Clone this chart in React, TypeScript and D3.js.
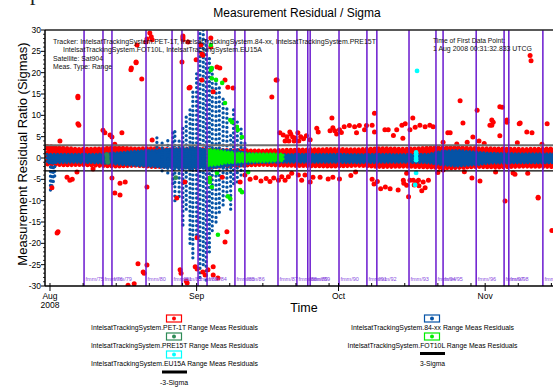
import React from "react";
import * as d3 from "d3";

const WIDTH = 553;
const HEIGHT = 387;
const PLOT = { left: 45, right: 553, top: 30, bottom: 286 };
const AUG1 = Date.UTC(2008, 7, 1);
const DAY = 86400000;
const FONT = "'Liberation Sans', Arial, sans-serif";

const COLORS = {
  pet1t: "#ff0000",
  b84xx: "#0553a6",
  pre15t: "#2e8b57",
  fot10l: "#00ee00",
  eu15a: "#00ffff",
  fmm: "#6a18cf",
  fmmText: "#8a4ce0",
};

// days from 1 Aug 2008, ratio in sigmas
const pet1tBand: [number, number, number][] = [
  [-0.6, -1.5, 2.8], [3, -1.7, 2.4], [6, -1.6, 2.1], [10, -1.8, 2.2], [14, -2.0, 2.5],
  [18, -1.8, 2.2], [22, -2.1, 2.3], [26, -2.0, 2.0], [30, -2.2, 2.2], [35, -2.1, 1.9],
  [40, -1.8, 1.8], [45, -1.6, 1.7], [50, -1.8, 1.9], [55, -1.9, 2.0], [60, -2.0, 2.1],
  [65, -1.8, 2.0], [70, -2.1, 2.3], [75, -2.0, 2.1], [80, -2.2, 2.4], [85, -2.4, 2.5],
  [90, -2.1, 2.3], [95, -2.2, 2.2], [100, -2.0, 2.1], [106.5, -2.1, 2.2],
];

const pet1tPoints: [number, number][] = [
  [2.1, 4.0], [5.9, 14.1], [5.9, 14.5], [6.1, 7.7], [3.6, -4.5], [4.7, -5.0], [1.5, -17.6],
  [1.7, -17.3], [0.4, -7.0], [5.7, -3.3], [5.9, 8.0], [11.2, 6.5], [11.6, 5.9], [12.7, 5.4],
  [13.1, 4.9], [15.2, 5.9], [13.7, 3.2], [9.1, -2.6], [13.1, -4.7], [14.8, -5.9], [15.9, -5.6],
  [13.7, -8.2], [14.8, -8.7], [4.2, -5.2], [20.5, -6.8], [26.8, -9.4], [21.6, 4.2],
  [19.4, 18.5], [20.3, 27.2], [20.5, 27.9], [21.1, 29.3], [21.4, 28.4], [21.6, 27.7],
  [18.4, 26.5], [17.2, 21.1], [17.1, 20.7], [18.2, 22.5], [18.2, 22.3], [28.1, 28.6],
  [28.1, 28.2], [29.2, 27.2], [27.9, 22.5], [30.9, 23.0], [32.1, 24.4], [32.3, 24.1],
  [34.0, 28.1], [34.0, 26.0], [35.9, 21.1], [37.0, 18.3], [32.1, 18.3], [47.8, 18.3],
  [18.6, -24.8], [20.5, -25.1], [19.7, -26.7], [19.9, -27.0], [16.5, -29.8], [17.8, -29.5],
  [27.5, -26.2], [27.7, -27.0], [29.0, -29.3], [28.8, -28.8], [30.7, -25.5], [31.1, -26.0],
  [32.3, -26.7], [32.8, -27.4], [34.5, -25.5], [35.5, -28.1],
  [28.1, 27.7], [29.6, 16.6], [29.4, 16.4], [31.9, 26.5], [35.3, 21.3], [37.6, 16.6],
  [38.7, 16.4], [34.5, 15.5], [28.5, -5.6], [33.8, -4.7], [36.4, -4.5], [37.4, -17.3],
  [37.0, -19.7], [31.1, -18.7], [33.4, -26.2], [34.5, -27.4], [40.2, -5.6], [41.2, -4.0],
  [48.0, 18.3], [46.9, 14.3],
  [48.6, 5.9], [49.3, 5.4], [49.7, 4.0], [50.1, 5.0], [50.5, 4.0], [50.9, 5.6], [51.3, 4.9],
  [51.6, 4.0], [52.6, 4.0], [53.0, 5.0], [53.6, 4.5], [54.2, 5.2], [55.0, 4.3], [50.7, 6.1],
  [52.4, 5.9], [51.8, 4.7], [56.4, 7.0], [56.7, 6.1],
  [59.2, 6.4], [59.8, 7.1], [60.2, 6.4], [61.2, 6.6], [60.6, 5.6], [61.6, 6.0], [62.2, 7.3],
  [63.3, 7.6], [64.4, 7.3], [64.8, 5.9], [65.4, 7.6], [66.5, 6.6], [66.9, 7.6],
  [68.6, 10.5], [68.1, 7.7], [68.6, 6.1], [59.6, 9.4],
  [70.8, 6.6], [71.5, 6.6], [73.3, 6.6], [74.4, 7.7], [75.1, 8.0], [76.1, 6.6], [77.2, 7.2],
  [78.2, 7.7], [79.3, 7.3], [80.3, 7.7], [81.0, 7.3], [72.6, 5.3], [74.6, 4.6], [76.7, 9.4],
  [47.3, -4.7], [48.3, -5.2], [49.0, -4.4], [49.7, -5.2], [50.4, -4.4], [51.1, -3.6],
  [52.5, -4.0], [53.2, -5.2], [53.9, -4.0], [55.0, -5.6], [55.6, -4.5],
  [42.3, -5.0], [43.5, -4.6], [44.6, -5.4], [45.7, -4.8], [46.5, -5.5],
  [57.1, -4.5], [58.8, -4.9], [59.8, -4.5], [61.2, -4.9], [63.6, -4.1], [64.6, -3.3],
  [68.1, -5.0], [69.2, -5.5], [68.5, -6.1], [69.9, -7.2], [70.9, -6.8], [71.9, -7.2],
  [73.6, -7.5], [74.7, -5.2], [75.4, -6.4], [75.8, -9.1],
  [76.1, -5.2], [76.8, -5.2], [77.5, -5.6], [77.9, -5.2], [78.9, -5.6], [79.3, -7.0],
  [78.6, -7.7], [80.0, -5.2], [77.0, -6.3], [78.0, -6.5], [75.4, -3.6], [74.8, -5.9],
  [101.5, 24.0], [101.7, 22.8], [86.7, 13.4], [90.3, 11.2], [95.6, 11.9], [87.3, 8.2],
  [93.4, 7.7], [93.7, 8.4], [96.6, 8.4], [99.2, 8.0], [105.1, 8.0], [100.8, 6.1],
  [101.9, 5.9], [95.1, 5.2], [84.1, 5.9], [90.7, 4.0], [96.2, -10.1], [103.2, -9.2],
  [106.1, -17.0], [89.2, -4.7], [90.9, -5.4], [98.3, -3.8], [83.1, 3.7], [84.6, 5.9],
  [88.2, 3.7], [89.4, 4.9], [93.0, 7.7], [93.4, 8.9], [95.1, 12.0], [96.6, 8.9],
  [99.4, 8.2], [83.1, -2.8], [97.9, -3.5], [103.2, -9.4], [86.0, 3.3], [91.8, 3.4],
  [98.8, 3.6], [104.0, 3.2], [82.0, -3.4], [87.6, -3.2], [94.2, -3.3], [101.0, -3.6],
];

const b84xxBand: [number, number, number][] = [
  [-0.6, -1.1, 0.9], [5, -1.0, 0.9], [10, -1.1, 0.9], [13, -1.3, 1.1], [16, -1.6, 1.4],
  [19, -1.8, 1.7], [22, -2.0, 1.8], [24, -2.2, 2.0], [26, -2.3, 2.2], [30, -2.4, 2.2],
  [35, -2.2, 1.8], [40, -1.6, 1.4], [43, -1.1, 1.0], [48, -1.0, 0.8], [55, -1.0, 0.9],
  [60, -1.0, 0.9], [65, -1.1, 0.8], [70, -1.0, 0.9], [75, -1.0, 0.8], [80, -1.1, 0.9],
  [83, -1.6, 1.6], [86, -1.9, 1.8], [90, -1.6, 1.4], [93, -1.2, 1.1], [100, -1.1, 1.0],
  [106.5, -1.1, 1.0],
];

const b84xxStreaks: [number, number, number][] = [
  [0.1, -7.5, 0], [0.4, -6.5, 0], [0.7, -5.5, 0], [1.0, -4.2, 0],
  [22.6, 1.5, 5.4], [23.7, -3, 3.5], [24.9, -3.5, 4.5], [26.0, -6, 6], [26.4, -10, 7],
  [27.3, -9, 5], [28.1, -15.7, 7.8], [28.8, -12, 10], [29.6, -20, 12], [30.2, -23.4, 15.5],
  [31.0, -18, 20], [31.7, -28, 31], [32.4, -25, 31], [33.0, -28.6, 28], [33.7, -22, 24],
  [34.3, -17, 21], [35.1, -15, 18], [35.8, -12.7, 17], [36.6, -11, 14], [37.4, -9, 12],
  [38.2, -12, 6], [38.8, -6, 11.7], [39.6, -5.6, 9], [40.4, -4, 7], [41.2, -3, 4],
];

const pre15tPoints: [number, number][] = [
  [12.1, 0.3], [12.1, -0.4], [12.2, -1.0], [12.0, 0.8], [26.6, -4.6],
];

const fot10lBand: [number, number, number][] = [
  [33.3, -1.8, 2.0], [35.3, -1.6, 1.8], [37, -1.2, 1.5], [39.5, -1.0, 1.2],
  [42, -0.8, 1.0], [45, -0.8, 1.0], [48, -0.7, 1.0], [49.3, -0.6, 0.9],
];

const fot10lPoints: [number, number][] = [
  [34.0, 26.5], [34.0, 20.6], [35.1, 18.3], [34.2, 21.1], [34.2, 18.7], [36.4, 17.6],
  [37.0, 12.9], [38.1, 8.9], [38.5, 8.4], [39.7, 6.6], [39.5, 7.3], [40.6, 4.9],
  [41.9, -3.3], [35.3, -3.5], [33.8, -5.6], [34.2, -6.8], [37.6, -9.0], [40.6, -8.0],
  [35.5, -18.0], [40.2, -7.5], [38.1, -9.5], [33.8, -4.7],
];

const eu15aPoints: [number, number][] = [
  [77.6, 20.4], [77.4, 1.3], [77.4, 0.8], [77.4, 0.0], [77.4, -0.5], [77.4, -3.5], [77.2, -6.3],
];

const fmmDays = [
  7.2, 11.2, 13.1, 20.3, 25.8, 27.9, 31.3, 33.2, 39.1, 41.2, 48.2, 52.2, 54.5, 55.0, 61.1,
  67.0, 69.1, 75.9, 81.6, 83.1, 90.1, 96.0, 97.0, 104.2,
];
const fmmLabels = [
  "fmm/75", "fmm/76", "fmm/79", "fmm/80", "fmm/81", "fmm/82", "fmm/83", "fmm/84", "fmm/85",
  "fmm/86", "fmm/87", "fmm/88", "fmm/89", "fmm/89", "fmm/90", "fmm/91", "fmm/92", "fmm/93",
  "fmm/94", "fmm/95", "fmm/96", "fmm/97", "fmm/98", "fmm/99",
];

const headerLines = [
  "Tracker: IntelsatTrackingSystem.PET-1T,  IntelsatTrackingSystem.84-xx,  IntelsatTrackingSystem.PRE15T",
  "IntelsatTrackingSystem.FOT10L,  IntelsatTrackingSystem.EU15A",
  "Satellite: Sat904",
  "Meas. Type: Range",
];
const firstPointLines = ["Time of First Data Point:", "1 Aug 2008 00:31:32.833 UTCG"];

const legendSeries = [
  "IntelsatTrackingSystem.PET-1T Range Meas Residuals",
  "IntelsatTrackingSystem.84-xx Range Meas Residuals",
  "IntelsatTrackingSystem.PRE15T Range Meas Residuals",
  "IntelsatTrackingSystem.FOT10L Range Meas Residuals",
  "IntelsatTrackingSystem.EU15A Range Meas Residuals",
];
const sigmaLabels = ["-3-Sigma", "3-Sigma"];
const monthLabels = ["Aug", "Sep", "Oct", "Nov"];

export default function App() {
  const x = d3
    .scaleUtc()
    .domain([new Date(Date.UTC(2008, 6, 30, 22, 38)), new Date(Date.UTC(2008, 10, 15, 8, 10))])
    .range([PLOT.left, PLOT.right]);
  const y = d3.scaleLinear().domain([-30, 30]).range([PLOT.bottom, PLOT.top]);
  const toX = (d: number) => x(new Date(AUG1 + d * DAY));

  const band = d3
    .area<[number, number, number]>()
    .x((d) => toX(d[0]))
    .y0((d) => y(d[1]))
    .y1((d) => y(d[2]));

  const majorY = d3.range(-30, 31, 5);
  const minorY = d3.range(-30, 31, 1).filter((v) => v % 5 !== 0);
  const months = d3.utcMonths(new Date(AUG1), new Date(Date.UTC(2008, 10, 2)));
  const weekTicks = d3
    .utcDays(new Date(AUG1), new Date(Date.UTC(2008, 10, 16)))
    .filter((d) => [8, 15, 22, 29].includes(d.getUTCDate()));

  const dot = (pts: [number, number][], color: string, r: number, key: string) =>
    pts.map((p, i) => (
      <circle key={key + i} cx={toX(p[0])} cy={y(p[1])} r={r} fill={color} />
    ));

  const legendLeft = [
    { label: legendSeries[0], color: COLORS.pet1t },
    { label: legendSeries[2], color: COLORS.pre15t },
    { label: legendSeries[4], color: COLORS.eu15a },
  ];
  const legendRight = [
    { label: legendSeries[1], color: COLORS.b84xx },
    { label: legendSeries[3], color: COLORS.fot10l },
  ];

  return (
    <svg
      width={WIDTH}
      height={HEIGHT}
      style={{ position: "absolute", left: 0, top: 0, background: "#fff" }}
      fontFamily={FONT}
    >
      <rect width={WIDTH} height={HEIGHT} fill="#fff" />
      <text x={8} y={0} fontSize={22} fontFamily="'Liberation Serif', serif" fill="#222">
        Sept 2007
      </text>

      <text x={297} y={17} textAnchor="middle" fontSize={12}>
        Measurement Residual / Sigma
      </text>

      <defs>
        <clipPath id="plot-clip">
          <rect x={PLOT.left} y={PLOT.top} width={PLOT.right - PLOT.left} height={PLOT.bottom - PLOT.top} />
        </clipPath>
      </defs>

      <g clipPath="url(#plot-clip)">
        {/* PET-1T dense band */}
        <path d={band(pet1tBand) ?? ""} fill={COLORS.pet1t} stroke={COLORS.pet1t} strokeWidth={4.2}
          strokeLinecap="round" strokeDasharray="0 4" />
        {/* 84-xx dense band and streaks */}
        <path d={band(b84xxBand) ?? ""} fill={COLORS.b84xx} stroke={COLORS.b84xx} strokeWidth={3}
          strokeLinecap="round" strokeDasharray="0 3.5" />
        {b84xxStreaks.map((s, i) => (
          <line key={"s" + i} x1={toX(s[0])} x2={toX(s[0])} y1={y(s[1])} y2={y(s[2])}
            stroke={COLORS.b84xx} strokeWidth={3.3} strokeLinecap="round" strokeDasharray="0 4.6" />
        ))}
        {dot(pet1tPoints, COLORS.pet1t, 2.5, "r")}
        {dot(pre15tPoints, COLORS.pre15t, 2.4, "g")}
        <path d={band(fot10lBand) ?? ""} fill={COLORS.fot10l} stroke={COLORS.fot10l} strokeWidth={3}
          strokeLinecap="round" strokeDasharray="0 3.5" />
        {dot(fot10lPoints, COLORS.fot10l, 2.3, "l")}
        {dot(eu15aPoints, COLORS.eu15a, 2.4, "c")}

        {/* sigma lines */}
        <line x1={PLOT.left} x2={PLOT.right} y1={y(3)} y2={y(3)} stroke="#6e6e6e" strokeWidth={2} />
        <line x1={PLOT.left} x2={PLOT.right} y1={y(-3)} y2={y(-3)} stroke="#000" strokeWidth={1.3} />

        {/* maneuver markers */}
        {fmmDays.map((d, i) => (
          <g key={"f" + i}>
            <line x1={toX(d)} x2={toX(d)} y1={PLOT.top} y2={PLOT.bottom} stroke={COLORS.fmm} strokeWidth={1.5} />
            <text x={toX(d) + 1.5} y={281} fontSize={5.5} fill={COLORS.fmmText}>
              {fmmLabels[i]}
            </text>
          </g>
        ))}
      </g>

      {/* frame */}
      <line x1={PLOT.left} x2={PLOT.right} y1={PLOT.top} y2={PLOT.top} stroke="#222" strokeWidth={1.5} />
      <line x1={PLOT.left} x2={PLOT.right} y1={PLOT.bottom} y2={PLOT.bottom} stroke="#000" strokeWidth={1.5} />
      <line x1={PLOT.left} x2={PLOT.left} y1={PLOT.top} y2={PLOT.bottom} stroke="#000" strokeWidth={1.5} />

      {/* y axis */}
      {majorY.map((v) => (
        <g key={"ym" + v}>
          <line x1={PLOT.left - 4} x2={PLOT.left} y1={y(v)} y2={y(v)} stroke="#000" />
          <text x={41} y={y(v)} dy="0.35em" textAnchor="end" fontSize={8.5}>
            {String(v)}
          </text>
        </g>
      ))}
      {minorY.map((v) => (
        <line key={"yn" + v} x1={PLOT.left - 2} x2={PLOT.left} y1={y(v)} y2={y(v)} stroke="#000" strokeWidth={0.8} />
      ))}
      <text transform={`translate(22,${(PLOT.top + PLOT.bottom) / 2 - 4}) rotate(-90)`} textAnchor="middle"
        fontSize={13} dy="0.35em">
        Measurement Residual Ratio (Sigmas)
      </text>

      {/* x axis */}
      {months.map((m, i) => (
        <g key={"xm" + i}>
          <line x1={x(m)} x2={x(m)} y1={PLOT.bottom - 3} y2={PLOT.bottom + 5} stroke="#000" />
          <text x={x(m)} y={299} textAnchor="middle" fontSize={8.5}>
            {monthLabels[i]}
          </text>
        </g>
      ))}
      <text x={x(months[0])} y={308} textAnchor="middle" fontSize={8.5}>
        2008
      </text>
      {weekTicks.map((d, i) => (
        <line key={"xw" + i} x1={x(d)} x2={x(d)} y1={PLOT.bottom - 3} y2={PLOT.bottom} stroke="#000" />
      ))}
      <text x={304} y={312} textAnchor="middle" fontSize={12.5}>
        Time
      </text>

      {/* header notes */}
      {headerLines.map((t, i) => {
        const xs = [53, 63, 53, 53];
        const ws = [323, 199, 50, 59];
        return (
          <text key={"h" + i} x={xs[i]} y={43.5 + i * 8.6} fontSize={8} textLength={ws[i]}
            lengthAdjust="spacingAndGlyphs" fill="#111">
            {t}
          </text>
        );
      })}
      {firstPointLines.map((t, i) => (
        <text key={"t" + i} x={433} y={42.5 + i * 8.5} fontSize={8} textLength={i === 0 ? 72 : 99}
          lengthAdjust="spacingAndGlyphs" fill="#111">
          {t}
        </text>
      ))}

      {/* legend */}
      {legendLeft.map((l, i) => (
        <g key={"ll" + i}>
          <rect x={166.5} y={315 + i * 18} width={15} height={7} fill="#fff" stroke={l.color} strokeWidth={1.2} />
          <circle cx={174} cy={318.5 + i * 18} r={2} fill={l.color} />
          <text x={174.5} y={330 + i * 17.8} textAnchor="middle" fontSize={8} textLength={167}
            lengthAdjust="spacingAndGlyphs">
            {l.label}
          </text>
        </g>
      ))}
      <line x1={162} x2={187} y1={372} y2={372} stroke="#000" strokeWidth={3} />
      <text x={174} y={384.5} textAnchor="middle" fontSize={8} textLength={28} lengthAdjust="spacingAndGlyphs">
        {sigmaLabels[0]}
      </text>
      {legendRight.map((l, i) => (
        <g key={"lr" + i}>
          <rect x={424.5} y={315 + i * 18} width={15} height={7} fill="#fff" stroke={l.color} strokeWidth={1.2} />
          <circle cx={432} cy={318.5 + i * 18} r={2} fill={l.color} />
          <text x={432.5} y={330 + i * 17.5} textAnchor="middle" fontSize={8} textLength={i === 0 ? 163 : 170}
            lengthAdjust="spacingAndGlyphs">
            {l.label}
          </text>
        </g>
      ))}
      <line x1={420} x2={445} y1={353.5} y2={353.5} stroke="#000" strokeWidth={3} />
      <text x={432.5} y={365.5} textAnchor="middle" fontSize={8} textLength={25} lengthAdjust="spacingAndGlyphs">
        {sigmaLabels[1]}
      </text>
    </svg>
  );
}
